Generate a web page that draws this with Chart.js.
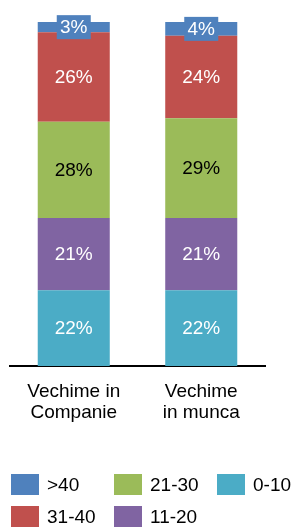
<!DOCTYPE html>
<html>
<head>
<meta charset="utf-8">
<script src="https://cdn.jsdelivr.net/npm/chart.js@4"></script>
<style>
  body { margin: 0; background: #fff; }
  #wrap { position: relative; width: 293px; height: 527px; overflow: hidden; }
  #legend { position: absolute; left: 0; top: 0; font-family: "Liberation Sans", Arial, sans-serif; font-size: 19px; color: #000; }
  .item { position: absolute; height: 21px; white-space: nowrap; }
  .item span.box { position: absolute; left: 0; top: 0; width: 28px; height: 21px; }
  .item span.txt { position: absolute; left: 36px; top: -1px; line-height: 23px; }
</style>
</head>
<body>
<div id="wrap">
  <canvas id="chart" width="293" height="527"></canvas>
  <div id="legend"></div>
</div>
<script>
// categories (two lines each)
var categories = [['Vechime in', 'Companie'], ['Vechime', 'in munca']];

// series, bottom to top
var seriesNames = ['0-10', '11-20', '21-30', '31-40', '>40'];
var s0_10  = [22, 22];
var s11_20 = [21, 21];
var s21_30 = [28, 29];
var s31_40 = [26, 24];
var sOver40 = [3, 4];

var colors = ['#4BACC6', '#8064A2', '#9BBB59', '#C0504D', '#4F81BD'];
var labelColors = ['#fff', '#fff', '#000', '#fff', '#fff'];

var seriesValues = [s0_10, s11_20, s21_30, s31_40, sOver40];

var datasets = seriesNames.map(function(name, i) {
    return {
        label: name,
        data: seriesValues[i],
        backgroundColor: colors[i],
        borderWidth: 0
    };
});

// draws value labels in the middle of each segment
var segmentLabels = {
    id: 'segmentLabels',
    afterDatasetsDraw: function(chart) {
        var ctx = chart.ctx;
        ctx.save();
        ctx.font = '19px "Liberation Sans", Arial, sans-serif';
        ctx.textAlign = 'center';
        ctx.textBaseline = 'middle';
        chart.data.datasets.forEach(function(ds, i) {
            var meta = chart.getDatasetMeta(i);
            meta.data.forEach(function(bar, j) {
                var cy = (bar.y + bar.base) / 2;
                var txt = ds.data[j] + '%';
                if (i === chart.data.datasets.length - 1) {
                    // top segment is too thin, label gets its own box
                    ctx.fillStyle = ds.backgroundColor;
                    ctx.fillRect(bar.x - 17, cy - 12, 34, 24);
                }
                ctx.fillStyle = labelColors[i];
                ctx.fillText(txt, bar.x, cy + 1);
            });
        });
        ctx.restore();
    }
};

var ctx = document.getElementById('chart');
var myChart = new Chart(ctx, {
    type: 'bar',
    data: { labels: categories, datasets: datasets },
    options: {
        responsive: false,
        animation: false,
        events: [],
        layout: { padding: { left: 10, right: 28, top: 22, bottom: 89 } },
        plugins: { legend: { display: false }, tooltip: { enabled: false } },
        datasets: { bar: { barPercentage: 0.565, categoryPercentage: 1 } },
        scales: {
            x: {
                stacked: true,
                grid: { display: false, drawTicks: false },
                border: { display: true, color: '#000', width: 2 },
                ticks: {
                    color: '#000',
                    padding: 15,
                    font: { family: '"Liberation Sans", Arial, sans-serif', size: 19, lineHeight: '21px' }
                }
            },
            y: { display: false, stacked: true, min: 0, max: 100 }
        }
    },
    plugins: [segmentLabels]
});

// legend, filled column by column, top series first
var legend = document.getElementById('legend');
var order = [4, 3, 2, 1, 0];
order.forEach(function(idx, k) {
    var col = Math.floor(k / 2), row = k % 2;
    var item = document.createElement('div');
    item.className = 'item';
    item.style.left = (11 + col * 103) + 'px';
    item.style.top = (474 + row * 32) + 'px';
    item.innerHTML = '<span class="box" style="background:' + colors[idx] + '"></span><span class="txt">' + seriesNames[idx] + '</span>';
    legend.appendChild(item);
});
</script>
</body>
</html>
